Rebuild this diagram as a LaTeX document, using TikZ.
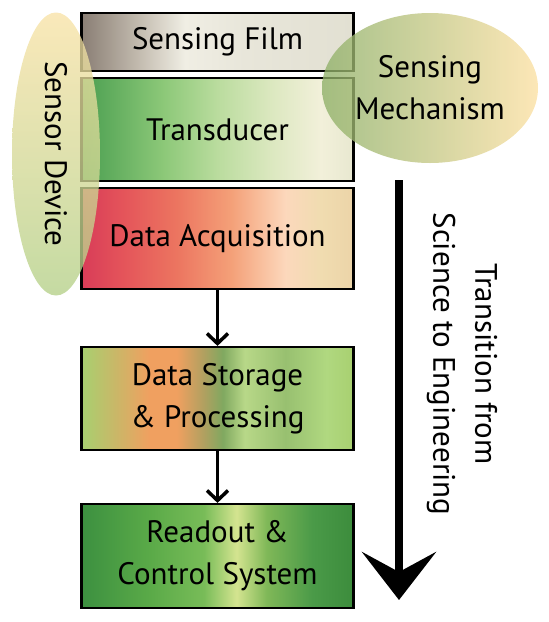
\documentclass[tikz,border=0pt]{standalone}
\usepackage{fontspec}
\setmainfont{PT Sans}
\usetikzlibrary{arrows.meta,shapes.geometric}

\definecolor{filmA}{HTML}{8A7E74}
\definecolor{filmB}{HTML}{C0B8AC}
\definecolor{filmC}{HTML}{F0EEE4}
\definecolor{filmD}{HTML}{E8E6DA}
\definecolor{filmE}{HTML}{E2E0D2}
\definecolor{transA}{HTML}{4A9E50}
\definecolor{transB}{HTML}{8CC878}
\definecolor{transC}{HTML}{BADC9E}
\definecolor{transD}{HTML}{DCE8C0}
\definecolor{transE}{HTML}{F2F0DA}
\definecolor{transF}{HTML}{E8E8D0}
\definecolor{acqA}{HTML}{D83C58}
\definecolor{acqB}{HTML}{E4545A}
\definecolor{acqC}{HTML}{EC7560}
\definecolor{acqD}{HTML}{F4A078}
\definecolor{acqE}{HTML}{FCD8BC}
\definecolor{acqF}{HTML}{F0DCB0}
\definecolor{acqG}{HTML}{ECD4A8}
\definecolor{storA}{HTML}{A8D070}
\definecolor{storB}{HTML}{C8B868}
\definecolor{storC}{HTML}{F0A060}
\definecolor{storD}{HTML}{B0A060}
\definecolor{storE}{HTML}{80A860}
\definecolor{storF}{HTML}{B8D888}
\definecolor{storG}{HTML}{98C070}
\definecolor{storH}{HTML}{B0D880}
\definecolor{readA}{HTML}{3C9040}
\definecolor{readB}{HTML}{5AAA48}
\definecolor{readC}{HTML}{78BC58}
\definecolor{readD}{HTML}{D4E490}
\definecolor{readE}{HTML}{80B858}
\definecolor{readF}{HTML}{4A9A48}
\definecolor{readG}{HTML}{3C8C3C}
\definecolor{devgreen}{HTML}{B4D088}
\definecolor{devyellow}{HTML}{F8E2A6}
\definecolor{mechgreen}{HTML}{8EB068}
\definecolor{mechyellow}{HTML}{FCE0A2}

\pgfdeclarehorizontalshading{filmshade}{100bp}{color(0bp)=(filmA); color(25bp)=(filmA); color(35bp)=(filmB); color(44bp)=(filmC); color(55bp)=(filmD); color(75bp)=(filmE); color(100bp)=(filmE)}
\pgfdeclarehorizontalshading{transshade}{100bp}{color(0bp)=(transA); color(25bp)=(transA); color(40bp)=(transB); color(50bp)=(transC); color(60bp)=(transD); color(69bp)=(transE); color(75bp)=(transF); color(100bp)=(transF)}
\pgfdeclarehorizontalshading{acqshade}{100bp}{color(0bp)=(acqA); color(25bp)=(acqA); color(32.5bp)=(acqB); color(42.5bp)=(acqC); color(52.5bp)=(acqD); color(62.5bp)=(acqE); color(69bp)=(acqF); color(75bp)=(acqG); color(100bp)=(acqG)}
\pgfdeclarehorizontalshading{storshade}{100bp}{color(0bp)=(storA); color(25bp)=(storA); color(31bp)=(storB); color(37.5bp)=(storC); color(42.5bp)=(storC); color(47.5bp)=(storD); color(51bp)=(storE); color(55bp)=(storF); color(62.5bp)=(storG); color(70bp)=(storH); color(75bp)=(storA); color(100bp)=(storA)}
\pgfdeclarehorizontalshading{readshade}{100bp}{color(0bp)=(readA); color(25bp)=(readA); color(37.5bp)=(readB); color(47.5bp)=(readC); color(53.5bp)=(readD); color(59bp)=(readE); color(67.5bp)=(readF); color(75bp)=(readG); color(100bp)=(readG)}

\tikzset{
  every node/.style={font=\fontsize{31pt}{42pt}\selectfont},
  box/.style={draw, line width=2.2pt, shade, minimum width=272pt, align=center, inner sep=0pt},
  link/.style={line width=3.5pt, -{Straight Barb[length=10pt,width=21pt]}},
  bubble/.style={ellipse, inner sep=0pt, fill opacity=0.78, text opacity=1, align=center}
}

\begin{document}
\begin{tikzpicture}[x=1pt,y=-1pt]
    \useasboundingbox (0,0) rectangle (549,622);

    % Boxes
    \node[box, shading=filmshade, minimum height=58pt] (film) at (217.5,42) {Sensing Film};
    \node[box, shading=transshade, minimum height=103pt] (transducer) at (217.5,129.5) {Transducer};
    \node[box, shading=acqshade, minimum height=101pt] (acquisition) at (217.5,238.5) {Data Acquisition};
    \node[box, shading=storshade, minimum height=103pt] (storage) at (217.5,398.5) {Data Storage\\\& Processing};
    \node[box, shading=readshade, minimum height=104pt] (readout) at (217.5,556) {Readout \&\\Control System};

    % Arrows
    \draw[link] (acquisition) -- (storage);
    \draw[link] (storage) -- (readout);

    % Ellipses
    \node[bubble, rotate=-90, minimum width=283pt, minimum height=88pt,
          top color=devyellow, bottom color=devgreen] (device) at (56,154) {Sensor Device};
    \node[bubble, minimum width=216pt, minimum height=150pt,
          left color=mechgreen, right color=mechyellow] (mechanism) at (430,88) {Sensing\\Mechanism};

    % Transition
    \coordinate (trtop) at (399,180);
    \coordinate (trtip) at (399,600);
    \draw[line width=8pt, -{Stealth[length=48pt,width=74pt,inset=20pt]}] (trtop) -- (trtip);
    \node[rotate=-90, align=center] (trlabel) at (462,364) {Transition from\\Science to Engineering};
\end{tikzpicture}
\end{document}
